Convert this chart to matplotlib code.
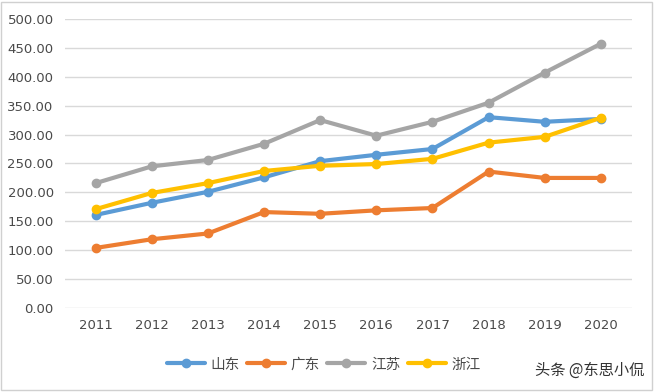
import matplotlib
matplotlib.use('Agg')
import matplotlib.pyplot as plt
from matplotlib.ticker import FormatStrFormatter
from matplotlib.patches import Rectangle

plt.rcParams['font.family'] = ['Noto Sans CJK SC', 'DejaVu Sans']

years = ['2011', '2012', '2013', '2014', '2015', '2016', '2017', '2018', '2019', '2020']
shandong = [161, 182, 201, 226, 254, 265, 275, 330, 322, 327]
guangdong = [104, 119, 129, 166, 163, 169, 173, 236, 225, 225]
jiangsu = [216, 245, 256, 284, 325, 298, 322, 355, 407, 457]
zhejiang = [171, 199, 216, 237, 246, 249, 258, 286, 296, 329]

series = [
    ('山东', shandong, '#5B9BD5'),
    ('广东', guangdong, '#ED7D31'),
    ('江苏', jiangsu, '#A5A5A5'),
    ('浙江', zhejiang, '#FFC000'),
]

fig = plt.figure(figsize=(6.54, 3.92), dpi=100)
ax = fig.add_axes([0.099, 0.214, 0.867, 0.738])

x = list(range(len(years)))
for name, vals, color in series:
    ax.plot(x, vals, color=color, linewidth=3, marker='o', markersize=6,
            label=name, solid_capstyle='round')

ax.set_ylim(0, 500)
ax.set_yticks(range(0, 501, 50))
ax.yaxis.set_major_formatter(FormatStrFormatter('%.2f'))
ax.set_xlim(-0.55, 9.55)
ax.set_xticks(x)
ax.set_xticklabels(years)
ax.grid(axis='y', color='#D9D9D9', linewidth=1)
ax.set_axisbelow(True)
for s in ax.spines.values():
    s.set_visible(False)
ax.tick_params(length=0, labelsize=9.5, colors='#4A4A4A', pad=8)
for lab in ax.get_xticklabels() + ax.get_yticklabels():
    lab.set_family('DejaVu Sans')

fig.legend(loc='center', bbox_to_anchor=(0.495, 0.07), ncol=4, frameon=False,
           fontsize=10.5, handlelength=2.6, columnspacing=0.5, handletextpad=0.4,
           labelcolor='#4A4A4A')

fig.text(0.985, 0.055, '头条 @东思小侃', ha='right', va='center', fontsize=11,
         color='#333333')

fig.patches.append(Rectangle((0.002, 0.004), 0.995, 0.992, transform=fig.transFigure,
                             fill=False, edgecolor='#D0D0D0', linewidth=1))

fig.savefig('out.png', dpi=100)
